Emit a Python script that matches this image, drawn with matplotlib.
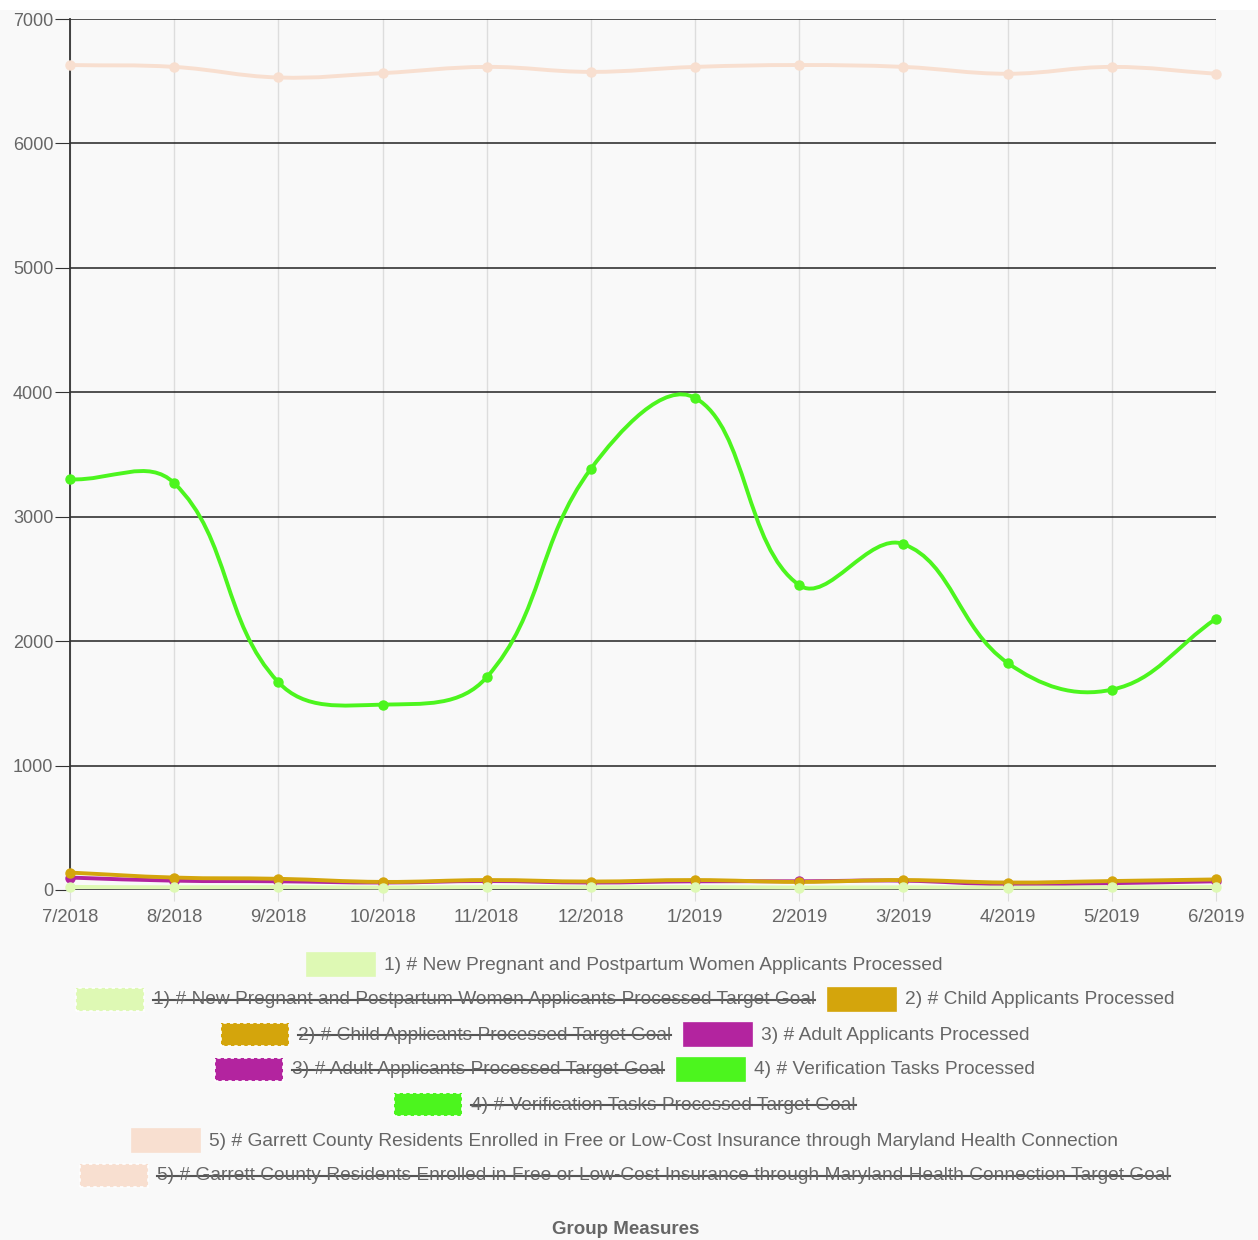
import numpy as np
import matplotlib
matplotlib.use('Agg')
import matplotlib.pyplot as plt
from matplotlib.path import Path
from matplotlib.patches import PathPatch, Rectangle
from matplotlib.lines import Line2D

plt.rcParams['font.family'] = ['Liberation Sans', 'DejaVu Sans']

months = ['7/2018', '8/2018', '9/2018', '10/2018', '11/2018', '12/2018',
          '1/2019', '2/2019', '3/2019', '4/2019', '5/2019', '6/2019']
pregnant = [25, 22, 24, 20, 24, 22, 24, 20, 22, 20, 22, 24]
child = [140, 100, 90, 65, 80, 68, 80, 65, 80, 60, 72, 85]
adult = [100, 75, 70, 60, 72, 60, 70, 70, 75, 45, 55, 70]
verification = [3300, 3270, 1670, 1490, 1710, 3385, 3955, 2450, 2780, 1825, 1610, 2180]
enrolled = [6630, 6615, 6530, 6565, 6615, 6575, 6615, 6630, 6615, 6560, 6615, 6560]

labels = ['1) # New Pregnant and Postpartum Women Applicants Processed',
          '2) # Child Applicants Processed',
          '3) # Adult Applicants Processed',
          '4) # Verification Tasks Processed',
          '5) # Garrett County Residents Enrolled in Free or Low-Cost Insurance through Maryland Health Connection']
colors = ['#def9b4', '#d4a50c', '#b3249f', '#4cf51e', '#f8dfd0']
series = [pregnant, child, adult, verification, enrolled]

W, H = 1258, 1240
fig = plt.figure(figsize=(W / 100, H / 100), dpi=100, facecolor='#f9f9f9')
fig.patches.append(Rectangle((0, 1 - 10 / H), 1, 10 / H, transform=fig.transFigure,
                             facecolor='white', edgecolor='none'))
ax = fig.add_axes([70 / W, 1 - 890 / H, (1216 - 70) / W, (890 - 19) / H])
ax.set_facecolor('#f9f9f9')
x = np.arange(len(months))
ax.set_xlim(0, len(months) - 1)
ax.set_ylim(0, 7000)


def spline(xs, ys, color, lw, t=0.4):
    p = ax.transData.transform(np.column_stack([xs, ys]))
    n = len(p)
    pc, nc = [], []
    for i in range(n):
        prev = p[i - 1] if i > 0 else p[i]
        nxt = p[i + 1] if i < n - 1 else p[i]
        d01 = np.hypot(*(p[i] - prev))
        d12 = np.hypot(*(nxt - p[i]))
        tot = d01 + d12
        s01 = d01 / tot if tot else 0
        s12 = d12 / tot if tot else 0
        pc.append(p[i] - t * s01 * (nxt - prev))
        nc.append(p[i] + t * s12 * (nxt - prev))
    verts = [p[0]]
    codes = [Path.MOVETO]
    for i in range(n - 1):
        verts += [nc[i], pc[i + 1], p[i + 1]]
        codes += [Path.CURVE4] * 3
    verts = ax.transData.inverted().transform(np.array(verts))
    ax.add_patch(PathPatch(Path(verts, codes), fill=False, edgecolor=color,
                           lw=lw, zorder=3, capstyle='round', joinstyle='round'))


for vals, c in reversed(list(zip(series, colors))):
    spline(x, vals, c, 2.8)
    ax.plot(x, vals, 'o', color=c, ms=6.5, zorder=4, clip_on=False)

ax.set_yticks(range(0, 7001, 1000))
ax.set_xticks(x)
ax.set_xticklabels(months)
ax.yaxis.grid(True, color='#222222', lw=1.1)
ax.xaxis.grid(True, color='#dddddd', lw=1)
ax.set_axisbelow(True)
for s in ['top', 'right', 'bottom']:
    ax.spines[s].set_visible(False)
ax.spines['left'].set_color('#333333')
ax.spines['left'].set_linewidth(1.3)
ax.tick_params(axis='y', length=11, color='#333333', labelcolor='#666666',
               labelsize=13, pad=1)
ax.tick_params(axis='x', length=8, color='#dddddd', labelcolor='#666666',
               labelsize=13.3, pad=6)

# legend, laid out like the chart.js one
rows = [[(0, False)],
        [(0, True), (1, False)],
        [(1, True), (2, False)],
        [(2, True), (3, False)],
        [(3, True)],
        [(4, False)],
        [(4, True)]]
row_y = [965, 1000, 1035, 1070, 1105, 1141, 1176]
bw, bh, gap_bt, gap_it = 68, 23, 9, 13
cx = 625
fs = 13.8
renderer = fig.canvas.get_renderer()


def fx(px):
    return px / W


def fy(py):
    return 1 - py / H


for items, yc in zip(rows, row_y):
    widths = []
    texts = []
    for idx, goal in items:
        lab = labels[idx] + (' Target Goal' if goal else '')
        t = fig.text(0, fy(yc), lab, fontsize=fs, color='#666666', va='center', ha='left')
        w = t.get_window_extent(renderer).width
        texts.append(t)
        widths.append(w)
    total = sum(bw + gap_bt + w for w in widths) + gap_it * (len(items) - 1)
    xpos = cx - total / 2
    for (idx, goal), t, w in zip(items, texts, widths):
        rect = Rectangle((fx(xpos), fy(yc - 1 + bh / 2)), bw / W, bh / H,
                         transform=fig.transFigure, facecolor=colors[idx],
                         edgecolor='white' if goal else colors[idx],
                         lw=1.2, linestyle=(0, (2, 2)) if goal else '-')
        fig.patches.append(rect)
        tx = xpos + bw + gap_bt
        t.set_x(fx(tx))
        if goal:
            fig.lines.append(Line2D([fx(tx), fx(tx + w)], [fy(yc), fy(yc)],
                                    transform=fig.transFigure, color='#555555', lw=1.5))
        xpos = tx + w + gap_it

fig.text(fx(626), fy(1229), 'Group Measures', fontsize=13.5, fontweight='bold',
         color='#666666', ha='center', va='center')

fig.savefig('out.png', dpi=100, facecolor=fig.get_facecolor())
